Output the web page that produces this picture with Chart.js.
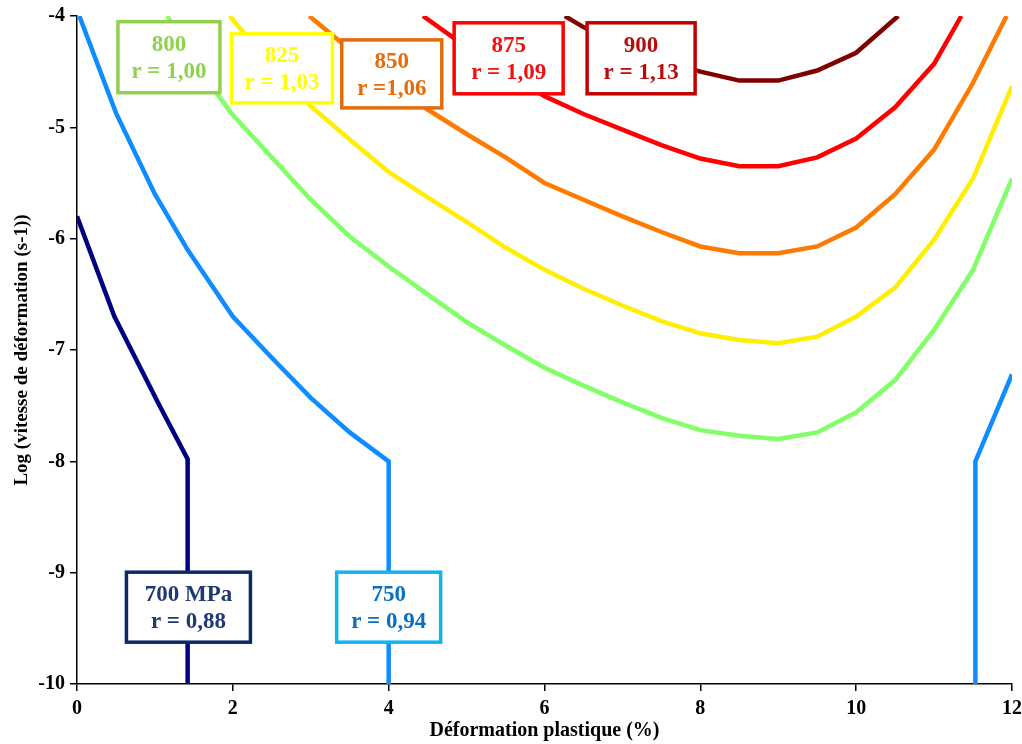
<!DOCTYPE html>
<html>
<head>
<meta charset="utf-8">
<script src="https://cdn.jsdelivr.net/npm/chart.js@4.4.0/dist/chart.umd.min.js"></script>
<style>
  body { margin: 0; background: #fff; }
  #wrap { width: 1022px; height: 744px; }
</style>
</head>
<body>
<div id="wrap"><canvas id="chart" width="1022" height="744"></canvas></div>
<script>
// iso-stress curves: plastic strain (%) vs log strain rate
const x700 = [0, 0.48, 1.06, 1.42, 1.42];
const y700 = [-5.8, -6.7, -7.5, -7.98, -10];

const x750 = [0.03, 0.5, 1, 1.42, 2, 2.5, 3, 3.5, 4, 4];
const y750 = [-4, -4.87, -5.6, -6.1, -6.7, -7.07, -7.43, -7.74, -8, -10];
const x750b = [11.53, 11.53, 12];
const y750b = [-10, -8, -7.22];

const x800 = [1.16, 1.5, 2, 2.5, 3, 3.5, 4, 4.5, 5, 5.5, 6, 6.5, 7, 7.5, 8, 8.5, 9, 9.5, 10, 10.5, 11, 11.5, 12];
const y800 = [-4, -4.42, -4.89, -5.27, -5.65, -5.98, -6.25, -6.5, -6.75, -6.96, -7.16, -7.32, -7.47, -7.61, -7.72, -7.77, -7.8, -7.74, -7.56, -7.27, -6.82, -6.28, -5.46];

const x825 = [1.96, 2.5, 3, 3.5, 4, 4.5, 5, 5.5, 6, 6.5, 7, 7.5, 8, 8.5, 9, 9.5, 10, 10.5, 11, 11.5, 12];
const y825 = [-4, -4.45, -4.81, -5.11, -5.4, -5.63, -5.85, -6.08, -6.28, -6.45, -6.6, -6.74, -6.85, -6.91, -6.94, -6.88, -6.7, -6.44, -6.01, -5.46, -4.63];

const x850 = [2.98, 3.5, 4, 4.5, 5, 5.5, 6, 6.5, 7, 7.5, 8, 8.5, 9, 9.5, 10, 10.5, 11, 11.5, 11.93];
const y850 = [-4, -4.3, -4.58, -4.84, -5.06, -5.27, -5.5, -5.65, -5.8, -5.94, -6.07, -6.13, -6.13, -6.07, -5.9, -5.6, -5.2, -4.6, -4];

const x875 = [4.44, 5, 5.5, 6, 6.5, 7, 7.5, 8, 8.5, 9, 9.5, 10, 10.5, 11, 11.35];
const y875 = [-4, -4.28, -4.5, -4.72, -4.88, -5.02, -5.16, -5.28, -5.35, -5.35, -5.27, -5.1, -4.82, -4.43, -4];

const x900 = [6.26, 6.5, 7, 7.5, 8, 8.5, 9, 9.5, 10, 10.54];
const y900 = [-4, -4.1, -4.27, -4.4, -4.5, -4.58, -4.58, -4.49, -4.33, -4];

const xTicks = [0, 2, 4, 6, 8, 10, 12];
const yTicks = [-10, -9, -8, -7, -6, -5, -4];

function pts(xs, ys) {
  return xs.map((x, i) => ({ x: x, y: ys[i] }));
}

// boxed labels (center in data units)
const boxes = [
  { lines: ["700 MPa", "r = 0,88"], x: 1.43, y: -9.31, w: 124, h: 70, border: "#0d2a66", text: "#1f3a73" },
  { lines: ["750", "r = 0,94"], x: 4.0, y: -9.31, w: 104, h: 70, border: "#12b4f0", text: "#0b6fc0" },
  { lines: ["800", "r = 1,00"], x: 1.18, y: -4.37, w: 102, h: 71, border: "#92d050", text: "#92d050" },
  { lines: ["825", "r = 1,03"], x: 2.63, y: -4.47, w: 101, h: 69, border: "#ffff00", text: "#ffff00" },
  { lines: ["850", "r =1,06"], x: 4.04, y: -4.52, w: 100, h: 68, border: "#e46c0a", text: "#e46c0a" },
  { lines: ["875", "r = 1,09"], x: 5.54, y: -4.38, w: 109, h: 71, border: "#ff0000", text: "#ee1111" },
  { lines: ["900", "r = 1,13"], x: 7.24, y: -4.38, w: 108, h: 71, border: "#c00000", text: "#b50d0d" },
];

const boxPlugin = {
  id: "boxes",
  afterDatasetsDraw(chart) {
    const ctx = chart.ctx;
    const xs = chart.scales.x, ys = chart.scales.y;
    ctx.save();
    boxes.forEach(b => {
      const cx = xs.getPixelForValue(b.x);
      const cy = ys.getPixelForValue(b.y);
      ctx.fillStyle = "#fff";
      ctx.fillRect(cx - b.w / 2, cy - b.h / 2, b.w, b.h);
      ctx.lineWidth = 3.5;
      ctx.strokeStyle = b.border;
      ctx.strokeRect(cx - b.w / 2, cy - b.h / 2, b.w, b.h);
      ctx.fillStyle = b.text;
      ctx.font = "bold 23px 'Liberation Serif', 'Times New Roman', serif";
      ctx.textAlign = "center";
      ctx.textBaseline = "middle";
      ctx.fillText(b.lines[0], cx, cy - 12);
      ctx.fillText(b.lines[1], cx, cy + 15);
    });
    ctx.restore();
  }
};

function line(data, color) {
  return {
    data: data,
    borderColor: color,
    backgroundColor: color,
    borderWidth: 4.5,
    pointRadius: 0,
    tension: 0,
    fill: false,
  };
}

const serif = "'Liberation Serif', 'Times New Roman', serif";

new Chart(document.getElementById("chart"), {
  type: "line",
  data: {
    datasets: [
      line(pts(x700, y700), "#000080"),
      line(pts(x750, y750), "#0f8cff"),
      line(pts(x750b, y750b), "#0f8cff"),
      line(pts(x800, y800), "#80ff66"),
      line(pts(x825, y825), "#ffee00"),
      line(pts(x850, y850), "#ff7a00"),
      line(pts(x875, y875), "#ff0000"),
      line(pts(x900, y900), "#800000"),
    ]
  },
  options: {
    responsive: false,
    animation: false,
    layout: { padding: { top: 16, right: 10, left: 0, bottom: 0 } },
    plugins: { legend: { display: false }, tooltip: { enabled: false } },
    scales: {
      x: {
        type: "linear",
        min: 0, max: 12,
        afterFit(s) { s.height = 60; s.paddingLeft = 0; s.paddingRight = 0; },
        afterBuildTicks(s) { s.ticks = xTicks.map(v => ({ value: v })); },
        grid: { display: true, drawOnChartArea: false, drawTicks: true, tickLength: 7, color: "#000", lineWidth: 1.5 },
        border: { display: true, color: "#000", width: 1.5 },
        ticks: { color: "#000", font: { family: serif, size: 20, weight: "bold" }, padding: 6, maxRotation: 0 },
        title: { display: true, text: "Déformation plastique (%)", color: "#000", font: { family: serif, size: 20, weight: "bold" }, padding: { top: 0, bottom: 1 } }
      },
      y: {
        type: "linear",
        min: -10, max: -4,
        afterFit(s) { s.width = 77; s.paddingTop = 0; s.paddingBottom = 0; },
        afterBuildTicks(s) { s.ticks = yTicks.map(v => ({ value: v })); },
        grid: { display: true, drawOnChartArea: false, drawTicks: true, tickLength: 7, color: "#000", lineWidth: 1.5 },
        border: { display: true, color: "#000", width: 1.5 },
        ticks: { color: "#000", font: { family: serif, size: 20, weight: "bold" }, padding: 5 },
        title: { display: true, text: "Log (vitesse de déformation (s-1))", color: "#000", font: { family: serif, size: 19, weight: "bold" }, padding: { top: 11, bottom: 0 } }
      }
    }
  },
  plugins: [boxPlugin]
});
</script>
</body>
</html>
